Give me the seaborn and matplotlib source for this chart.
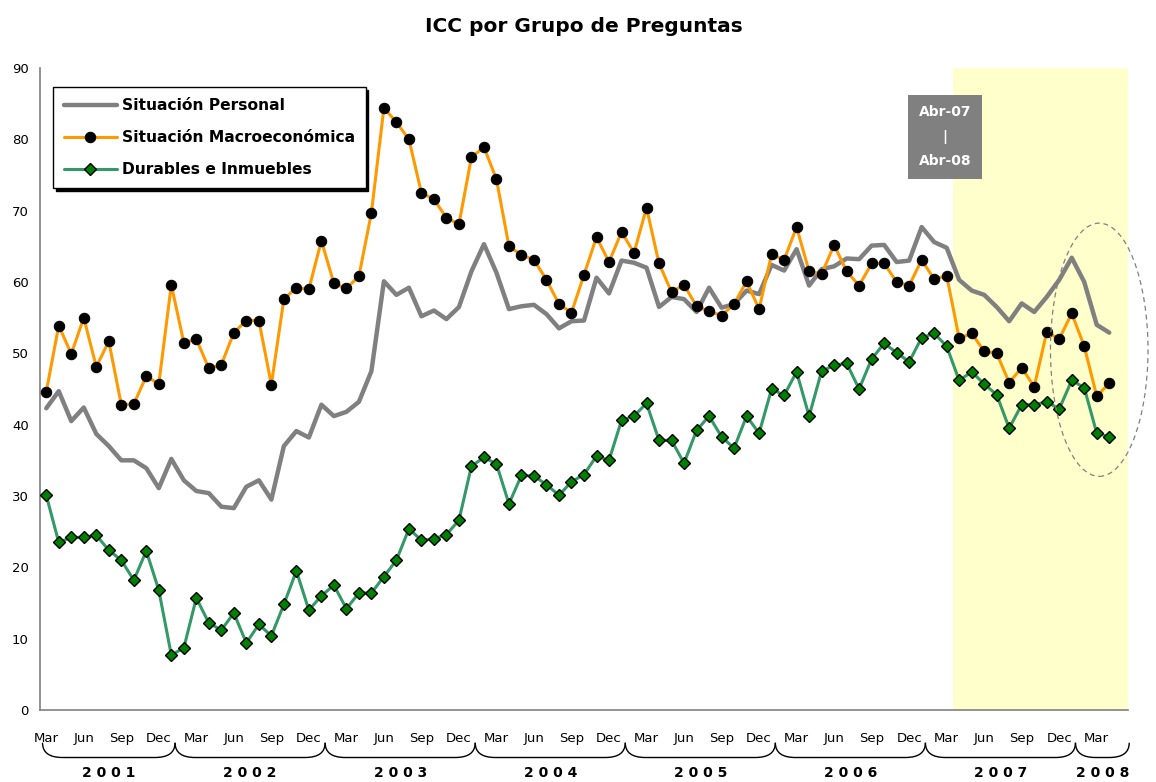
import numpy as np
import pandas as pd
import matplotlib
matplotlib.use('Agg')
import matplotlib.pyplot as plt
import seaborn as sns
from matplotlib.path import Path
from matplotlib.patches import PathPatch, Ellipse
import matplotlib.transforms as mtransforms

# Serie mensual Mar-2001 .. Abr-2008
inicio = '2001-03'
n_meses = 86

personal = [42.3, 44.7, 40.5, 42.4, 38.7, 37.0, 35.0, 35.0, 33.9, 31.1,
            35.2, 32.2, 30.7, 30.4, 28.5, 28.3, 31.3, 32.2, 29.5, 37.0,
            39.1, 38.2, 42.8, 41.2, 41.8, 43.2, 47.5, 60.1, 58.2, 59.2,
            55.2, 56.0, 54.8, 56.5, 61.5, 65.3, 61.3, 56.2, 56.6, 56.8,
            55.5, 53.5, 54.5, 54.6, 60.6, 58.4, 63.0, 62.7, 62.0, 56.5,
            57.9, 57.6, 55.8, 59.2, 56.4, 56.9, 58.8, 58.3, 62.4, 61.6,
            64.6, 59.5, 61.8, 62.2, 63.3, 63.2, 65.1, 65.2, 62.8, 63.0,
            67.7, 65.6, 64.8, 60.3, 58.8, 58.2, 56.5, 54.5, 57.0, 55.8,
            57.9, 60.3, 63.4, 60.0, 54.0, 52.9]

macro = [44.6, 53.9, 49.9, 55.0, 48.1, 51.7, 42.8, 42.9, 46.8, 45.7,
         59.6, 51.5, 52.0, 47.9, 48.4, 52.9, 54.6, 54.6, 45.6, 57.6,
         59.2, 59.0, 65.8, 59.8, 59.1, 60.8, 69.7, 84.4, 82.4, 80.0,
         72.5, 71.6, 69.0, 68.1, 77.5, 78.9, 74.4, 65.0, 63.8, 63.1,
         60.3, 56.9, 55.7, 61.0, 66.3, 62.8, 67.0, 64.1, 70.4, 62.6,
         58.6, 59.6, 56.6, 55.9, 55.3, 56.9, 60.1, 56.2, 63.9, 63.1,
         67.7, 61.5, 61.1, 65.2, 61.5, 59.5, 62.6, 62.6, 60.0, 59.5,
         63.1, 60.4, 60.9, 52.1, 52.8, 50.3, 50.0, 45.9, 48.0, 45.3,
         53.0, 52.0, 55.6, 51.0, 44.0, 45.8]

durables = [30.1, 23.5, 24.2, 24.2, 24.5, 22.4, 21.0, 18.2, 22.3, 16.8,
            7.7, 8.7, 15.7, 12.2, 11.2, 13.6, 9.4, 12.0, 10.4, 14.8,
            19.5, 14.0, 16.0, 17.5, 14.2, 16.4, 16.4, 18.7, 21.0, 25.4,
            23.8, 24.0, 24.6, 26.6, 34.2, 35.4, 34.5, 28.9, 32.9, 32.8,
            31.6, 30.1, 32.0, 33.0, 35.6, 35.0, 40.6, 41.2, 43.0, 37.8,
            37.8, 34.6, 39.2, 41.2, 38.3, 36.7, 41.2, 38.8, 45.0, 44.1,
            47.4, 41.2, 47.5, 48.3, 48.6, 45.0, 49.2, 51.4, 50.1, 48.8,
            52.2, 52.8, 51.0, 46.2, 47.4, 45.7, 44.2, 39.5, 42.8, 42.8,
            43.2, 42.2, 46.2, 45.2, 38.8, 38.3]

anios = ['2001', '2002', '2003', '2004', '2005', '2006', '2007', '2008']

fechas = pd.date_range(inicio, periods=n_meses + 1, freq='MS')  # incluye May-08 vacio
idx = np.arange(n_meses)
df = pd.DataFrame({'idx': idx, 'personal': personal, 'macro': macro, 'durables': durables})

sns.set_style('white')
plt.rcParams['font.family'] = ['DejaVu Sans']
plt.rcParams['text.color'] = 'black'
plt.rcParams['xtick.labelcolor'] = 'black'
plt.rcParams['ytick.labelcolor'] = 'black'

fig = plt.figure(figsize=(11.56, 7.82), dpi=100)
ax = fig.add_axes([40 / 1156, 72 / 782, 1088 / 1156, 642 / 782])

# periodo Abr-07 / Abr-08
i_abr07 = list(fechas.strftime('%Y-%m')).index('2007-04')
ax.axvspan(i_abr07 - 0.5, n_meses + 0.5, color='#FFFFCC', zorder=0, lw=0)

sns.lineplot(data=df, x='idx', y='personal', ax=ax, color='#808080', lw=3.2,
             label='Situación Personal', zorder=3)
sns.lineplot(data=df, x='idx', y='macro', ax=ax, color='#FF9900', lw=2.2,
             marker='o', markersize=7.5, markerfacecolor='black', markeredgecolor='black',
             label='Situación Macroeconómica', zorder=4)
sns.lineplot(data=df, x='idx', y='durables', ax=ax, color='#339966', lw=2.2,
             marker='D', markersize=6.3, markerfacecolor='#008000', markeredgecolor='black',
             markeredgewidth=1.0, label='Durables e Inmuebles', zorder=5)

ax.set_xlim(-0.5, n_meses + 0.5)
ax.set_ylim(0, 90)
ax.set_yticks(range(0, 91, 10))
ax.set_xlabel('')
ax.set_ylabel('')

meses_lbl = {3: 'Mar', 6: 'Jun', 9: 'Sep', 12: 'Dec'}
pos = [i for i in range(n_meses + 1) if fechas[i].month in meses_lbl]
ax.set_xticks(pos)
ax.set_xticklabels([meses_lbl[fechas[i].month] for i in pos], fontsize=9.5)
ax.set_xticks(np.arange(-0.5, n_meses + 1), minor=True)
ax.tick_params(axis='x', which='major', length=0, pad=16)
ax.tick_params(axis='x', which='minor', length=5, width=1, color='#808080', direction='out')
ax.tick_params(axis='y', length=5, width=1, color='#808080', direction='out', labelsize=9.5, pad=3)

for s in ['top', 'right']:
    ax.spines[s].set_visible(False)
for s in ['left', 'bottom']:
    ax.spines[s].set_color('#808080')
    ax.spines[s].set_linewidth(1.2)

ax.set_title('ICC por Grupo de Preguntas', fontsize=14.5, fontweight='bold', pad=26,
             color='black')

# llaves de años bajo el eje
trans = mtransforms.blended_transform_factory(ax.transData, ax.transAxes)
ene = [i - 0.5 + 0.8 for i in range(n_meses + 1) if fechas[i].month == 1]
limites = [-0.3] + ene + [n_meses + 0.6]
y_top, y_bot = -0.051, -0.074
for k, anio in enumerate(anios):
    a, b = limites[k], limites[k + 1]
    r = 1.6
    verts = [(a, y_top), (a, y_bot), (a + r, y_bot), (b - r, y_bot), (b, y_bot), (b, y_top)]
    codes = [Path.MOVETO, Path.CURVE3, Path.CURVE3, Path.LINETO, Path.CURVE3, Path.CURVE3]
    ax.add_patch(PathPatch(Path(verts, codes), transform=trans, fill=False,
                           lw=1.0, color='black', clip_on=False))
    ax.text((a + b) / 2, -0.098, ' '.join(anio), transform=trans, ha='center', va='center',
            fontsize=10, fontweight='bold')

# recuadro del periodo
ax.text(0.832, 0.893, 'Abr-07\n|\nAbr-08', transform=ax.transAxes, ha='center', va='center',
        color='white', fontsize=10, fontweight='bold', linespacing=1.95,
        bbox=dict(boxstyle='square,pad=0.75', facecolor='#808080', edgecolor='none'), zorder=6)

# elipse sobre los ultimos meses
ax.add_patch(Ellipse((84.2, 50.5), 7.8, 35.5, fill=False, ls=(0, (4, 3)), lw=0.9,
                     color='#808080', clip_on=False, zorder=6))

leg = ax.legend(loc='upper left', bbox_to_anchor=(0.012, 0.97), borderaxespad=0,
                frameon=True, fancybox=False,
                shadow={'color': 'black', 'alpha': 1, 'ox': 2, 'oy': -2},
                prop={'size': 11.2, 'weight': 'bold'}, handlelength=3.4, borderpad=0.7,
                labelspacing=1.1, handletextpad=0.3)
leg.get_frame().set_edgecolor('black')
leg.get_frame().set_linewidth(1.0)

fig.savefig('out.png', dpi=100)
